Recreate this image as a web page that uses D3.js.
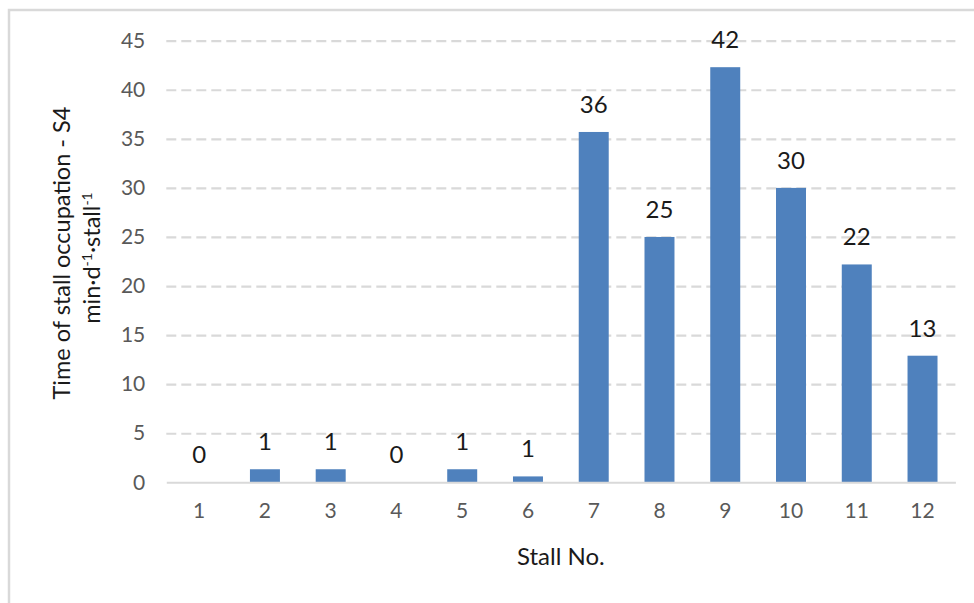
<!DOCTYPE html>
<html>
<head>
<meta charset="utf-8">
<script src="https://cdn.jsdelivr.net/npm/d3@7"></script>
<style>
  html, body { margin: 0; padding: 0; background: #fff; }
  svg { display: block; }
  text { font-family: Lato, "Open Sans", sans-serif; }
</style>
</head>
<body>
<svg id="chart" width="974" height="603"></svg>
<script>
// ---- data ----
const stalls = ["1","2","3","4","5","6","7","8","9","10","11","12"];
const occupation = [0, 1.33, 1.33, 0, 1.33, 0.6, 35.7, 25.0, 42.3, 30.0, 22.2, 12.9];
const yTicks = [0, 5, 10, 15, 20, 25, 30, 35, 40, 45];
const xTitle = "Stall No.";
const yTitleLine1 = "Time of stall occupation - S4";

// ---- layout ----
const W = 974, H = 603;
const plot = { left: 166.3, right: 955.4, top: 40.7, bottom: 482.3 };
const svg = d3.select("#chart");

// chart border
svg.append("rect")
  .attr("x", 9).attr("y", 10)
  .attr("width", W + 20).attr("height", H + 20)
  .attr("fill", "none").attr("stroke", "#d9d9d9").attr("stroke-width", 2.5);

const x = d3.scaleBand().domain(stalls).range([plot.left, plot.right])
  .paddingInner(0.544).paddingOuter(0.272);
const y = d3.scaleLinear().domain([0, 45]).range([plot.bottom, plot.top]);

// gridlines
const grid = svg.append("g")
  .attr("transform", `translate(${plot.left},0)`)
  .call(d3.axisLeft(y).tickValues(yTicks.filter(d => d > 0)).tickSize(-(plot.right - plot.left)).tickFormat(""));
grid.select(".domain").remove();
grid.selectAll(".tick line")
  .attr("stroke", "#d9d9d9").attr("stroke-width", 2.2).attr("stroke-dasharray", "10,5");

// y tick labels
const yAxis = svg.append("g")
  .attr("transform", `translate(${plot.left},0)`)
  .call(d3.axisLeft(y).tickValues(yTicks).tickSize(0).tickPadding(21).tickFormat(d3.format("d")));
yAxis.select(".domain").remove();
yAxis.selectAll("text")
  .attr("fill", "#595959").style("font-size", "21px").style("font-family", "Lato, sans-serif");

// bars
svg.append("g").selectAll("rect")
  .data(occupation)
  .join("rect")
  .attr("x", (d, i) => x(stalls[i]))
  .attr("width", x.bandwidth())
  .attr("y", d => y(d))
  .attr("height", d => y(0) - y(d))
  .attr("fill", "#4f81bd");

// baseline axis
const xAxis = svg.append("g")
  .attr("transform", `translate(0,${plot.bottom})`)
  .call(d3.axisBottom(x).tickSize(0).tickPadding(21).tickSizeOuter(0));
xAxis.select(".domain").attr("stroke", "#d9d9d9").attr("stroke-width", 2);
xAxis.selectAll("text")
  .attr("fill", "#595959").style("font-size", "21px").style("font-family", "Lato, sans-serif");

// data labels
svg.append("g").selectAll("text")
  .data(occupation)
  .join("text")
  .attr("x", (d, i) => x(stalls[i]) + x.bandwidth() / 2)
  .attr("y", d => y(d) - 19)
  .attr("text-anchor", "middle")
  .attr("fill", "#1a1a1a")
  .style("font-size", "24px")
  .text(d => d3.format(".0f")(d));

// x title
svg.append("text")
  .attr("x", (plot.left + plot.right) / 2).attr("y", 565)
  .attr("text-anchor", "middle").attr("fill", "#1a1a1a")
  .style("font-size", "24px")
  .text(xTitle);

// y title
svg.append("text")
  .attr("transform", `translate(70,253) rotate(-90)`)
  .attr("text-anchor", "middle").attr("fill", "#1a1a1a")
  .style("font-size", "23.5px")
  .text(yTitleLine1);

const t2 = svg.append("text")
  .attr("transform", `translate(100,258) rotate(-90)`)
  .attr("text-anchor", "middle").attr("fill", "#1a1a1a")
  .style("font-size", "23.5px");
t2.append("tspan").text("min·d");
t2.append("tspan").attr("baseline-shift", "super").style("font-size", "14px").text("-1");
t2.append("tspan").text("·stall");
t2.append("tspan").attr("baseline-shift", "super").style("font-size", "14px").text("-1");
</script>
</body>
</html>
